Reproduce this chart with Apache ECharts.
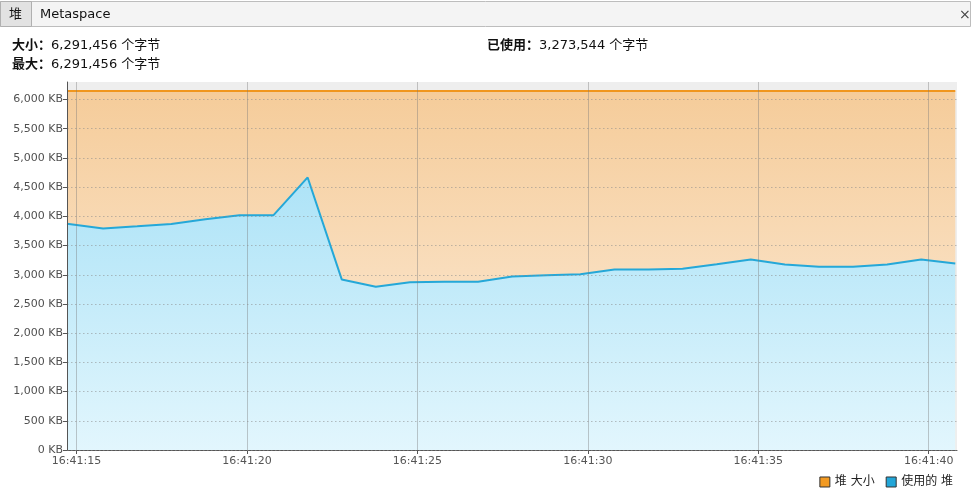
<!DOCTYPE html>
<html>
<head>
<meta charset="utf-8">
<script src="https://cdn.jsdelivr.net/npm/echarts@6/dist/echarts.min.js"></script>
<style>
html,body{margin:0;padding:0;background:#fff;}
#c{width:973px;height:490px;}
</style>
</head>
<body>
<div id="c"></div>
<script>
// time in seconds after 16:41:00
const times = [14.72, 15.78, 16.78, 17.78, 18.78, 19.78, 20.78, 21.78, 22.78, 23.78, 24.78, 25.78, 26.78, 27.78, 28.78, 29.78, 30.78, 31.78, 32.78, 33.78, 34.78, 35.78, 36.78, 37.78, 38.78, 39.78, 40.78];
// used heap in KB
const usedKB = [3873, 3793, 3830, 3870, 3950, 4020, 4020, 4666, 2920, 2795, 2870, 2880, 2880, 2970, 2990, 3010, 3090, 3090, 3103, 3180, 3262, 3177, 3138, 3138, 3177, 3262, 3194];
// heap size in KB (6,291,456 bytes)
const heapSizeKB = times.map(() => 6144);
const xTicks = [15, 20, 25, 30, 35, 40];
const yTicks = [0, 500, 1000, 1500, 2000, 2500, 3000, 3500, 4000, 4500, 5000, 5500, 6000];
const seriesNames = ['堆 大小', '使用的 堆'];
const headerSize = '6,291,456 个字节';
const headerMax = '6,291,456 个字节';
const headerUsed = '3,273,544 个字节';

const FONT = '"DejaVu Sans", "Noto Sans CJK SC", sans-serif';
const chart = echarts.init(document.getElementById('c'));
const fmtKB = v => v.toLocaleString('en-US') + ' KB';
const fmtT = v => '16:41:' + String(Math.round(v)).padStart(2, '0');

chart.setOption({
  animation: false,
  textStyle: {fontFamily: FONT},
  grid: {left: 67, top: 82, right: 16, bottom: 40, show: true, backgroundColor: '#eeeeee', borderWidth: 0},
  xAxis: {
    type: 'value', min: 14.72, max: 40.83,
    axisLine: {show: true, lineStyle: {color: '#555', width: 1}},
    axisTick: {show: true, customValues: xTicks, length: 4, lineStyle: {color: '#555'}},
    axisLabel: {customValues: xTicks, formatter: fmtT, color: '#555', fontSize: 11, margin: 6, fontFamily: FONT},
    splitLine: {show: false}
  },
  yAxis: {
    type: 'value', min: 0, max: 6300, interval: 500, z: 10,
    axisLine: {show: true, lineStyle: {color: '#555', width: 1}},
    axisTick: {show: true, customValues: yTicks, length: 4, lineStyle: {color: '#555'}},
    axisLabel: {customValues: yTicks, formatter: fmtKB, color: '#505050', fontSize: 11, margin: 4, fontFamily: FONT},
    splitLine: {show: true, lineStyle: {color: 'rgba(140,140,140,0.55)', type: [1.5, 2.5], width: 1}}
  },
  legend: {
    data: seriesNames, right: 15, bottom: -3, icon: 'rect', itemWidth: 10, itemHeight: 10, itemGap: 11,
    itemStyle: {borderColor: '#333', borderWidth: 1},
    textStyle: {color: '#222', fontSize: 12, fontFamily: FONT}
  },
  series: [
    {
      name: seriesNames[0], type: 'line', z: 2,
      data: times.map((t, i) => [t, heapSizeKB[i]]),
      symbol: 'none', color: '#f29a22',
      lineStyle: {color: '#f0961e', width: 2},
      areaStyle: {color: new echarts.graphic.LinearGradient(0, 0, 0, 1, [
        {offset: 0, color: '#f5cc9a'}, {offset: 1, color: '#fdeedd'}
      ]), opacity: 1}
    },
    {
      name: seriesNames[1], type: 'line', z: 3,
      data: times.map((t, i) => [t, usedKB[i]]),
      symbol: 'none', color: '#22a6d8',
      lineStyle: {color: '#25a8d8', width: 2},
      areaStyle: {color: new echarts.graphic.LinearGradient(0, 0, 0, 1, [
        {offset: 0, color: '#ade3f7'}, {offset: 1, color: '#e2f6fd'}
      ]), opacity: 1}
    },
    {
      name: 'grid', type: 'line', z: 6, data: [], silent: true,
      markLine: {
        silent: true, symbol: 'none', label: {show: false},
        lineStyle: {color: 'rgba(120,120,120,0.4)', type: 'solid', width: 1},
        data: xTicks.map(v => ({xAxis: v}))
      }
    }
  ],
  graphic: [
    {type: 'rect', shape: {x: 0.5, y: 1.5, width: 970, height: 25}, style: {fill: '#f4f4f4', stroke: '#bdbdbd', lineWidth: 1}},
    {type: 'rect', shape: {x: 0.5, y: 1.5, width: 31, height: 25}, style: {fill: '#e2e2e2', stroke: '#b0b0b0', lineWidth: 1}},
    {type: 'text', x: 9, y: 15, style: {text: '堆', fill: '#111', font: '13px ' + FONT, verticalAlign: 'middle'}},
    {type: 'text', x: 40, y: 15, style: {text: 'Metaspace', fill: '#111', font: '13px ' + FONT, verticalAlign: 'middle'}},
    {type: 'text', x: 959, y: 15, style: {text: '×', fill: '#444', font: '14px ' + FONT, verticalAlign: 'middle'}},
    {type: 'text', x: 12, y: 46, style: {
      text: '{b|大小：}{n|' + headerSize + '}', verticalAlign: 'middle',
      rich: {b: {font: 'bold 13px ' + FONT, fill: '#111'}, n: {font: '13px ' + FONT, fill: '#111'}}
    }},
    {type: 'text', x: 12, y: 65, style: {
      text: '{b|最大：}{n|' + headerMax + '}', verticalAlign: 'middle',
      rich: {b: {font: 'bold 13px ' + FONT, fill: '#111'}, n: {font: '13px ' + FONT, fill: '#111'}}
    }},
    {type: 'text', x: 487, y: 46, style: {
      text: '{b|已使用：}{n|' + headerUsed + '}', verticalAlign: 'middle',
      rich: {b: {font: 'bold 13px ' + FONT, fill: '#111'}, n: {font: '13px ' + FONT, fill: '#111'}}
    }}
  ]
});
</script>
</body>
</html>
